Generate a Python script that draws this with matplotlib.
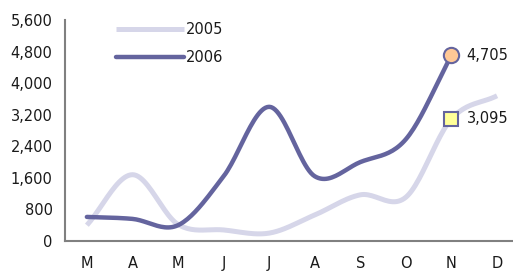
import numpy as np
import matplotlib
matplotlib.use("Agg")
import matplotlib.pyplot as plt
from matplotlib.ticker import FuncFormatter

months = ["M", "A", "M", "J", "J", "A", "S", "O", "N", "D"]
sales_2005 = [400, 1680, 420, 280, 200, 660, 1170, 1110, 3095, 3680]
sales_2006 = [610, 560, 400, 1640, 3400, 1640, 2000, 2580, 4705]
yticks = [0, 800, 1600, 2400, 3200, 4000, 4800, 5600]

C2006 = "#64649e"
C2005 = "#d6d6e9"


def smooth(xs, ys, n=24):
    xs = np.asarray(xs, float)
    ys = np.asarray(ys, float)
    px = np.concatenate([[2 * xs[0] - xs[1]], xs, [2 * xs[-1] - xs[-2]]])
    py = np.concatenate([[2 * ys[0] - ys[1]], ys, [2 * ys[-1] - ys[-2]]])
    ox, oy = [], []
    for i in range(1, len(px) - 2):
        t = np.linspace(0, 1, n, endpoint=False)
        p0, p1, p2, p3 = py[i - 1], py[i], py[i + 1], py[i + 2]
        yv = 0.5 * ((2 * p1) + (-p0 + p2) * t + (2 * p0 - 5 * p1 + 4 * p2 - p3) * t ** 2
                    + (-p0 + 3 * p1 - 3 * p2 + p3) * t ** 3)
        xv = px[i] + (px[i + 1] - px[i]) * t
        ox.extend(xv)
        oy.extend(yv)
    ox.append(xs[-1])
    oy.append(ys[-1])
    return np.array(ox), np.array(oy)


fig = plt.figure(figsize=(5.13, 2.72), dpi=100)
ax = fig.add_axes([65 / 513, 31 / 272, 1 - 65 / 513, 221 / 272])

x5 = np.arange(len(sales_2005))
x6 = np.arange(len(sales_2006))
sx5, sy5 = smooth(x5, sales_2005)
sx6, sy6 = smooth(x6, sales_2006)

ax.plot(sx5, sy5, color=C2005, lw=3.6, solid_capstyle="butt", label="2005", zorder=2)
ax.plot(sx6, sy6, color=C2006, lw=3.2, solid_capstyle="round", label="2006", zorder=3)

ax.plot([x6[-1]], [sales_2006[-1]], marker="o", ms=11, mfc="#ffc896", mec=C2006, mew=1.5, zorder=5)
ax.plot([x5[8]], [sales_2005[8]], marker="s", ms=10, mfc="#ffff99", mec=C2006, mew=1.5, zorder=5)
ax.annotate(f"{sales_2006[-1]:,}", (x6[-1], sales_2006[-1]), xytext=(11, 0), textcoords="offset points",
            va="center", ha="left", fontsize=10.5, color="#1a1a1a")
ax.annotate(f"{sales_2005[8]:,}", (x5[8], sales_2005[8]), xytext=(11, 0), textcoords="offset points",
            va="center", ha="left", fontsize=10.5, color="#1a1a1a")

ax.set_xlim(-0.48, 9.35)
ax.set_ylim(0, 5600)
ax.set_yticks(yticks)
ax.yaxis.set_major_formatter(FuncFormatter(lambda v, p: f"{int(v):,}"))
ax.set_xticks(np.arange(len(months)))
ax.set_xticklabels(months)
ax.tick_params(axis="both", length=0, labelsize=10.5, colors="#1a1a1a")
ax.tick_params(axis="y", pad=9)
ax.tick_params(axis="x", pad=11)

for s in ["top", "right"]:
    ax.spines[s].set_visible(False)
for s in ["left", "bottom"]:
    ax.spines[s].set_color("#808080")
    ax.spines[s].set_linewidth(1.5)

leg = ax.legend(loc="upper left", bbox_to_anchor=(45 / 448, 1.0 + 4 / 221), frameon=False, fontsize=10.5,
                handlelength=4.7, handletextpad=0.1, labelspacing=0.9, borderaxespad=0.0)
for t in leg.get_texts():
    t.set_color("#1a1a1a")

fig.savefig("out.png", dpi=100)
